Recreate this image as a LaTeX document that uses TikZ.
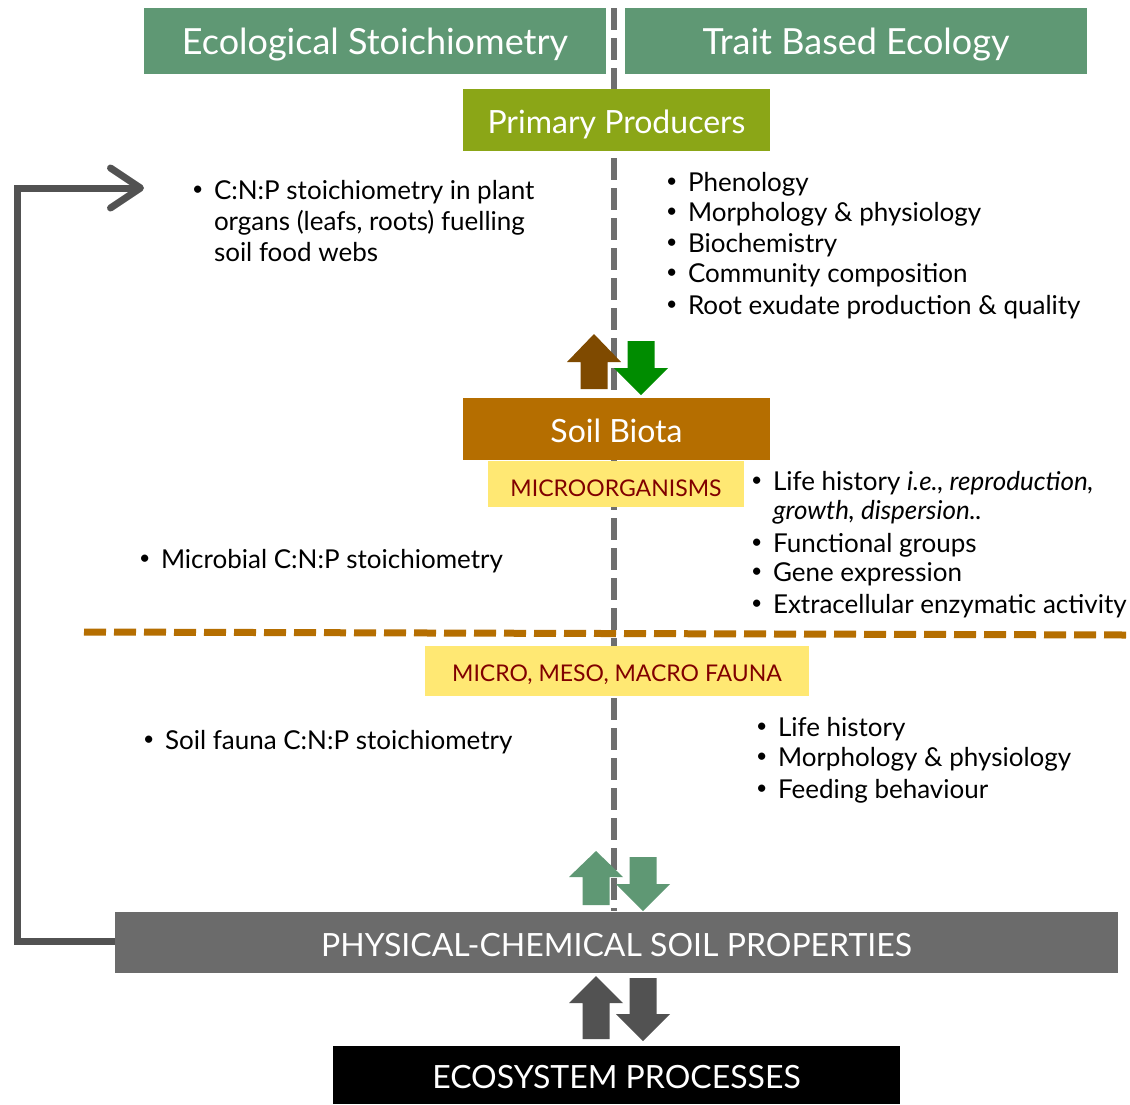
\documentclass[tikz,border=0pt]{standalone}
\usepackage{fontspec}
\setmainfont{Lato}
\usetikzlibrary{arrows.meta}
\definecolor{hdrgreen}{HTML}{5F9874}
\definecolor{ppgreen}{HTML}{8BA617}
\definecolor{soilbrown}{HTML}{B56E00}
\definecolor{labyellow}{HTML}{FFE873}
\definecolor{labred}{HTML}{800000}
\definecolor{arrbrown}{HTML}{7F4A00}
\definecolor{arrgreen}{HTML}{008C00}
\definecolor{physgray}{HTML}{6B6B6B}
\definecolor{darkgray}{HTML}{525252}
\definecolor{dashgray}{HTML}{6E6E6E}
\newcommand\bul{\makebox[22pt][l]{\raisebox{0.12em}{\scalebox{0.75}{•}}}}
% block arrows: #1 colour, #2 centre x, #3 tip y, #4 head-base y, #5 tail y
\newcommand\blockarrow[5]{\fill[#1] ({#2-13.5},#5) -- ({#2-13.5},#4) -- ({#2-27},#4) -- (#2,#3) -- ({#2+27},#4) -- ({#2+13.5},#4) -- ({#2+13.5},#5) -- cycle;}
\begin{document}
\begin{tikzpicture}[x=1pt,y=-1pt,
  every node/.style={inner sep=0pt, outer sep=0pt},
  hdr/.style={fill=hdrgreen, text=white, font=\fontsize{36}{40}\selectfont, minimum width=462pt, minimum height=66pt, text height=26pt, text depth=0pt},
  mainbox/.style={text=white, font=\fontsize{32}{36}\selectfont, minimum width=307pt, minimum height=62pt, text height=26pt, text depth=0pt},
  lab/.style={fill=labyellow, text=labred, font=\fontsize{23}{26}\selectfont, text depth=0pt},
  itm/.style={anchor=base west, font=\fontsize{26}{30}\selectfont, text=black},
  capsbox/.style={text=white, font=\fontsize{32}{36}\selectfont, text depth=0pt},
]
\useasboundingbox (0,0) rectangle (1130,1104);
\fill[white] (0,0) rectangle (1130,1104);

% dashed divider lines
\coordinate (vtop) at (614,8);
\coordinate (vbot) at (614,911);
\draw[dashgray, line width=6pt, dash pattern=on 22pt off 8pt] (vtop) -- (vbot);
\coordinate (hl) at (84,632);
\coordinate (hr) at (1126,635);
\draw[soilbrown, line width=7pt, dash pattern=on 22pt off 8pt] (hl) -- (hr);

% headers
\node[hdr] (es) at (375,41) {Ecological Stoichiometry};
\node[hdr] (tbe) at (856,41) {Trait Based Ecology};

% main boxes
\node[mainbox, fill=ppgreen] (pp) at (616.5,120) {Primary Producers};
\node[mainbox, fill=soilbrown] (sb) at (616.5,429) {Soil Biota};
\node[lab, minimum width=256pt, minimum height=46pt, text height=24pt] (micro) at (616,484) {MICROORGANISMS};
\node[lab, minimum width=384pt, minimum height=50pt, text height=20pt] (fauna) at (617,671) {MICRO, MESO, MACRO FAUNA};
\node[capsbox, fill=physgray, minimum width=1003pt, minimum height=61pt, text height=27pt] (phys) at (616.5,942.5) {PHYSICAL-CHEMICAL SOIL PROPERTIES};
\node[capsbox, fill=black, minimum width=567pt, minimum height=58pt, text height=26pt] (eco) at (616.5,1075) {ECOSYSTEM PROCESSES};

% feedback loop
\coordinate (loopend) at (144,188);
\draw[darkgray, line width=7pt, line join=miter, -{Straight Barb[length=30pt,width=40pt,line cap=round,line join=round]}]
  (phys.west |- 0,941) -- (17.5,941) -- (17.5,188) -- (loopend);

% block arrows
\blockarrow{arrbrown}{594}{334}{362}{389}
\blockarrow{arrgreen}{641}{395}{368}{341}
\blockarrow{hdrgreen}{596}{851}{877}{905}
\blockarrow{hdrgreen}{643}{911}{884}{857}
\blockarrow{darkgray}{596}{976}{1003}{1039}
\blockarrow{darkgray}{643}{1041}{1014}{978}

% left texts
\node[itm] (l1) at (192,199) {\bul C:N:P stoichiometry in plant};
\node[itm] (l2) at (192,230) {\hspace*{22pt}organs (leafs, roots) fuelling};
\node[itm] (l3) at (192,261) {\hspace*{22pt}soil food webs};
\node[itm] (l4) at (139,568) {\bul Microbial C:N:P stoichiometry};
\node[itm] (l5) at (143,749) {\bul Soil fauna C:N:P stoichiometry};

% right texts: primary producers
\node[itm] (r1) at (666,191) {\bul Phenology};
\node[itm] (r2) at (666,221) {\bul Morphology \& physiology};
\node[itm] (r3) at (666,252) {\bul Biochemistry};
\node[itm] (r4) at (666,282) {\bul Community composition};
\node[itm] (r5) at (666,314) {\bul Root exudate production \& quality};

% right texts: microorganisms
\node[itm] (m1) at (751,490) {\bul Life history \textit{i.e., reproduction,}};
\node[itm] (m2) at (751,519) {\hspace*{22pt}\textit{growth, dispersion..}};
\node[itm] (m3) at (751,552) {\bul Functional groups};
\node[itm] (m4) at (751,581) {\bul Gene expression};
\node[itm] (m5) at (751,613) {\bul Extracellular enzymatic activity};

% right texts: fauna
\node[itm] (f1) at (756,736) {\bul Life history};
\node[itm] (f2) at (756,766) {\bul Morphology \& physiology};
\node[itm] (f3) at (756,798) {\bul Feeding behaviour};
\end{tikzpicture}
\end{document}
